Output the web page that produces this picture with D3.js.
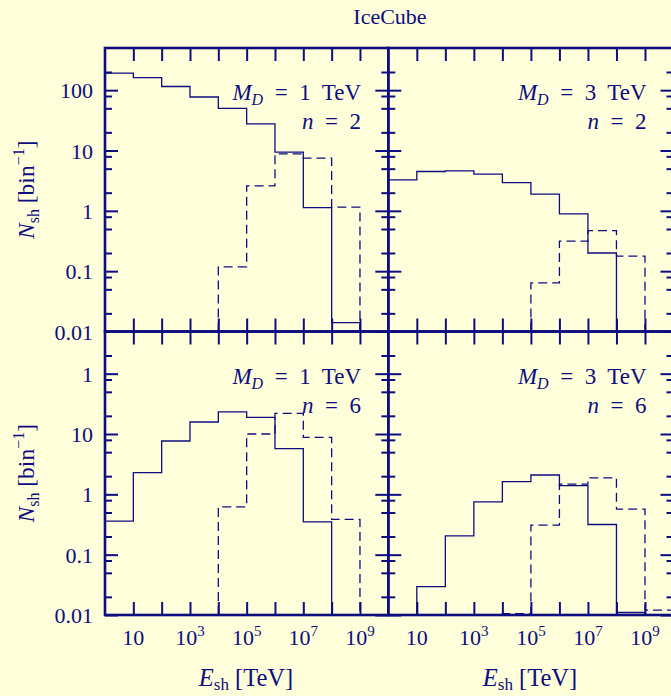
<!DOCTYPE html>
<html>
<head>
<meta charset="utf-8">
<script src="https://cdn.jsdelivr.net/npm/d3@7"></script>
<style>
  html, body { margin: 0; padding: 0; background: #fefedb; overflow: hidden; }
  svg { display: block; }
  text { font-family: "Liberation Serif", "Times New Roman", serif; fill: #0d0d80; }
</style>
</head>
<body>
<script>
const width = 671;
const height = 696;
const ink = "#0d0d80";

// bin edges in E_sh [TeV], one decade per bin
const binEdges = [1, 1e1, 1e2, 1e3, 1e4, 1e5, 1e6, 1e7, 1e8, 1e9, 1e10];

// N_sh per bin, 0 = below the plotted range
const tlSolid  = [191, 162, 115, 77, 50, 27.6, 9.4, 1.13, 0.014];
const tlDashed = [0, 0, 0, 0, 0.118, 2.6, 8.8, 7.5, 1.15];
const trSolid  = [3.27, 4.49, 4.6, 4.06, 2.94, 1.89, 0.89, 0.2, 0];
const trDashed = [0, 0, 0, 0, 0, 0.064, 0.315, 0.47, 0.177];
const blSolid  = [0.36, 2.29, 7.66, 15.8, 23.2, 18.9, 5.74, 0.35, 0];
const blDashed = [0, 0, 0, 0, 0.62, 10, 22, 8.8, 0.385];
const brSolid  = [0, 0.0295, 0.205, 0.75, 1.62, 2.09, 1.39, 0.316, 0.011];
const brDashed = [0, 0, 0, 0, 0.0105, 0.309, 1.48, 1.87, 0.57, 0.012];

const xTicks = [1e1, 1e2, 1e3, 1e4, 1e5, 1e6, 1e7, 1e8, 1e9];
const xLabelTicks = [1e1, 1e3, 1e5, 1e7, 1e9];
const xLabelExp = ["", "3", "5", "7", "9"];

const yMajor = [0.01, 0.1, 1, 10, 100];
const yMinor = [0.02, 0.05, 0.08, 0.2, 0.5, 0.8, 2, 5, 8, 20, 50, 80, 200];
const yLabelsTop = ["0.01", "0.1", "1", "10", "100"];
const yLabelsBottom = ["0.01", "0.1", "1", "10", "1"];

// right panel is a little wider (28.5 px per decade) and runs past the edge
const panels = [
  { xr: [105, 388.3], frameR: 388.3, yr: [331.5, 48], solid: tlSolid, dashed: tlDashed, md: "1", n: "2", tx: 361, yLabels: yLabelsTop },
  { xr: [388.3, 673.5], frameR: 678, yr: [331.5, 48], solid: trSolid, dashed: trDashed, md: "3", n: "2", tx: 646.5 },
  { xr: [105, 388.3], frameR: 388.3, yr: [615, 331.5], solid: blSolid, dashed: blDashed, md: "1", n: "6", tx: 361, yLabels: yLabelsBottom, xTitle: 246 },
  { xr: [388.3, 673.5], frameR: 678, yr: [615, 331.5], solid: brSolid, dashed: brDashed, md: "3", n: "6", tx: 646.5, xTitle: 530 }
];

const svg = d3.select("body")
  .append("svg")
  .attr("width", width)
  .attr("height", height)
  .attr("viewBox", [0, 0, width, height]);

svg.append("rect")
  .attr("width", width)
  .attr("height", height)
  .attr("fill", "#fefedb");

svg.append("text")
  .attr("x", 390)
  .attr("y", 24)
  .attr("text-anchor", "middle")
  .attr("font-size", 22)
  .text("IceCube");

function styleAxis(g) {
  g.select(".domain").remove();
  g.selectAll(".tick line").attr("stroke", ink).attr("stroke-width", 2);
  g.selectAll(".tick text").remove();
}

function histPath(vals, x, y) {
  const floor = 0.01;
  const first = vals.findIndex(v => v > 0);
  let last = vals.length - 1;
  while (last > 0 && !(vals[last] > 0)) last--;
  const pts = [[binEdges[first], floor]];
  for (let i = first; i <= last; i++) pts.push([binEdges[i], Math.max(vals[i], floor)]);
  pts.push([binEdges[last + 1], floor]);
  return d3.line()
    .curve(d3.curveStepAfter)
    .x(d => x(d[0]))
    .y(d => y(d[1]))(pts);
}

panels.forEach(p => {
  const x = d3.scaleLog().domain([1, 1e10]).range(p.xr);
  const y = d3.scaleLog().domain([0.01, 500]).range(p.yr);
  const g = svg.append("g");

  g.append("path")
    .attr("fill", "none")
    .attr("stroke", ink)
    .attr("stroke-width", 1.3)
    .attr("d", histPath(p.solid, x, y));

  g.append("path")
    .attr("fill", "none")
    .attr("stroke", ink)
    .attr("stroke-width", 1.3)
    .attr("stroke-dasharray", "9,5")
    .attr("d", histPath(p.dashed, x, y));

  // ticks point inward on all four sides
  g.append("g").attr("transform", `translate(0,${p.yr[0]})`)
    .call(d3.axisBottom(x).tickValues(xTicks).tickSizeInner(-13).tickSizeOuter(0)).call(styleAxis);
  g.append("g").attr("transform", `translate(0,${p.yr[1]})`)
    .call(d3.axisTop(x).tickValues(xTicks).tickSizeInner(-13).tickSizeOuter(0)).call(styleAxis);
  g.append("g").attr("transform", `translate(${p.xr[0]},0)`)
    .call(d3.axisLeft(y).tickValues(yMajor).tickSizeInner(-13).tickSizeOuter(0)).call(styleAxis);
  g.append("g").attr("transform", `translate(${p.xr[0]},0)`)
    .call(d3.axisLeft(y).tickValues(yMinor).tickSizeInner(-7).tickSizeOuter(0)).call(styleAxis);
  g.append("g").attr("transform", `translate(${p.xr[1]},0)`)
    .call(d3.axisRight(y).tickValues(yMajor).tickSizeInner(-13).tickSizeOuter(0)).call(styleAxis);
  g.append("g").attr("transform", `translate(${p.xr[1]},0)`)
    .call(d3.axisRight(y).tickValues(yMinor).tickSizeInner(-7).tickSizeOuter(0)).call(styleAxis);

  g.append("rect")
    .attr("x", p.xr[0])
    .attr("y", p.yr[1])
    .attr("width", p.frameR - p.xr[0])
    .attr("height", p.yr[0] - p.yr[1])
    .attr("fill", "none")
    .attr("stroke", ink)
    .attr("stroke-width", 2.6);

  // panel annotation
  const md = g.append("text")
    .attr("x", p.tx)
    .attr("y", p.yr[1] + 52)
    .attr("text-anchor", "end")
    .attr("font-size", 23);
  md.append("tspan").attr("font-style", "italic").text("M");
  md.append("tspan").attr("font-style", "italic").attr("font-size", 16).attr("dy", 5).text("D");
  md.append("tspan").attr("dy", -5).attr("xml:space", "preserve").text(`  =  ${p.md}  TeV`);

  const nt = g.append("text")
    .attr("x", p.tx)
    .attr("y", p.yr[1] + 81)
    .attr("text-anchor", "end")
    .attr("font-size", 23)
    .attr("xml:space", "preserve");
  nt.append("tspan").attr("font-style", "italic").text("n");
  nt.append("tspan").text(`  =  ${p.n}`);

  if (p.yLabels) {
    g.append("g")
      .selectAll("text")
      .data(yMajor)
      .join("text")
      .attr("x", 93)
      .attr("y", d => y(d) + 8)
      .attr("text-anchor", "end")
      .attr("font-size", 22)
      .text((d, i) => p.yLabels[i]);

    const yt = g.append("text")
      .attr("transform", `translate(34,${(p.yr[0] + p.yr[1]) / 2}) rotate(-90)`)
      .attr("text-anchor", "middle")
      .attr("font-size", 23.5);
    yt.append("tspan").attr("font-style", "italic").text("N");
    yt.append("tspan").attr("font-size", 16).attr("dy", 5).text("sh");
    yt.append("tspan").attr("dy", -5).attr("xml:space", "preserve").text(" [bin");
    yt.append("tspan").attr("font-size", 16).attr("dy", -10).text("\u22121");
    yt.append("tspan").attr("dy", 10).text("]");
  }

  if (p.xTitle) {
    g.append("g")
      .selectAll("text")
      .data(xLabelTicks)
      .join("text")
      .attr("x", d => x(d))
      .attr("y", 645)
      .attr("text-anchor", "middle")
      .attr("font-size", 22)
      .each(function (d, i) {
        const t = d3.select(this);
        t.append("tspan").text("10");
        if (xLabelExp[i]) t.append("tspan").attr("font-size", 15).attr("dy", -9).text(xLabelExp[i]);
      });

    const xt = g.append("text")
      .attr("x", p.xTitle)
      .attr("y", 686)
      .attr("text-anchor", "middle")
      .attr("font-size", 24.5);
    xt.append("tspan").attr("font-style", "italic").text("E");
    xt.append("tspan").attr("font-size", 17).attr("dy", 4).text("sh");
    xt.append("tspan").attr("dy", -4).attr("xml:space", "preserve").text(" [TeV]");
  }
});
</script>
</body>
</html>
